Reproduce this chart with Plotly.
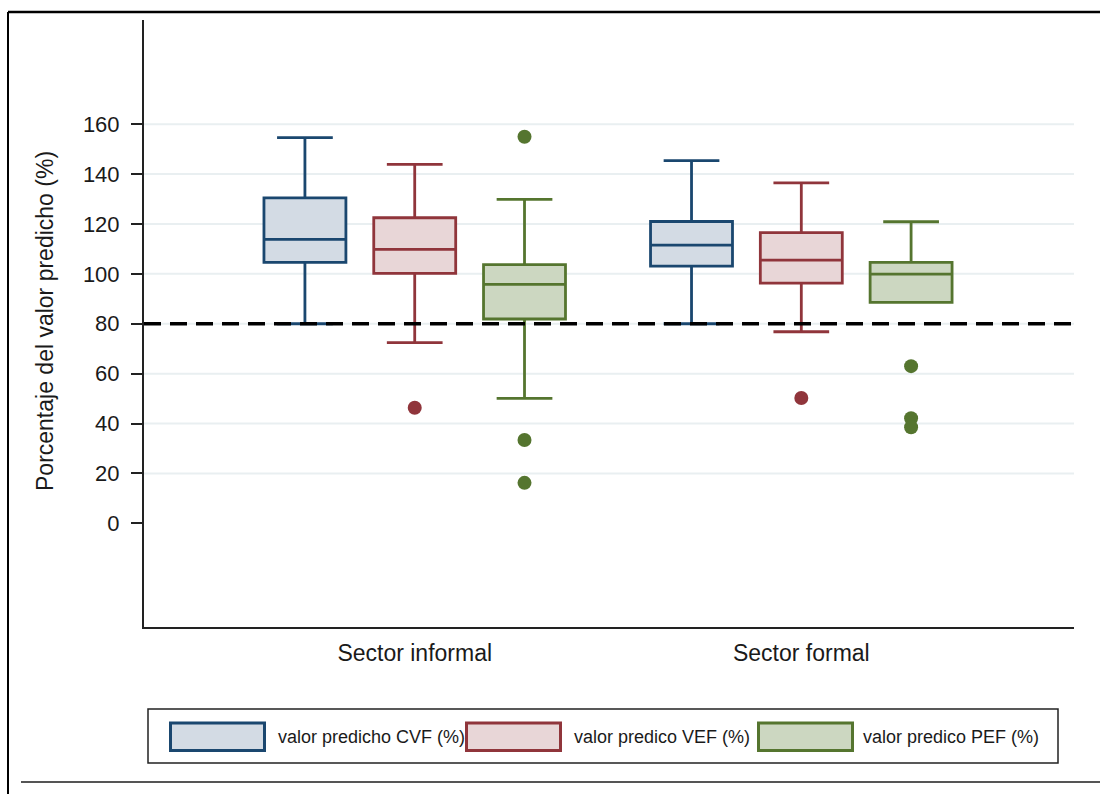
import plotly.graph_objects as go

# ---------------- data ----------------
groups = ["Sector informal", "Sector formal"]
series = ["valor predicho CVF (%)", "valor predico VEF (%)", "valor predico PEF (%)"]

cvf_q1 = [104.6, 103.1]
cvf_med = [113.8, 111.5]
cvf_q3 = [130.5, 121.0]
cvf_lo = [80.0, 80.0]
cvf_hi = [154.6, 145.4]
cvf_out = [[], []]

vef_q1 = [100.2, 96.3]
vef_med = [109.8, 105.5]
vef_q3 = [122.5, 116.5]
vef_lo = [72.4, 76.8]
vef_hi = [143.9, 136.5]
vef_out = [[46.3], [50.2]]

pef_q1 = [81.9, 88.6]
pef_med = [95.8, 99.9]
pef_q3 = [103.7, 104.6]
pef_lo = [50.1, 88.6]
pef_hi = [129.9, 120.9]
pef_out = [[155.0, 33.4, 16.2], [63.0, 42.1, 38.5]]

yticks = [0, 20, 40, 60, 80, 100, 120, 140, 160]
reference_line = 80

# ---------------- styles ----------------
line_colors = ["#1a476f", "#90353b", "#55752f"]
fill_colors = ["#d3dbe4", "#e8d6d7", "#ccd7c1"]
FONT = "Liberation Sans, Arial, sans-serif"
TXT = "#1a1a1a"

W, H = 1100, 794
ML, MR, MT, MB = 144, 26, 20, 167
PW = W - ML - MR
PH = H - MT - MB


def px(xpix):
    return (xpix - ML) / PW


def py(ypix):
    return (H - MB - ypix) / PH


offsets = [-0.284, 0.0, 0.284]
box_w = 0.212

stats = [
    (cvf_q1, cvf_med, cvf_q3, cvf_lo, cvf_hi, cvf_out),
    (vef_q1, vef_med, vef_q3, vef_lo, vef_hi, vef_out),
    (pef_q1, pef_med, pef_q3, pef_lo, pef_hi, pef_out),
]

fig = go.Figure()
for si, (q1, med, q3, lo, hi, outs) in enumerate(stats):
    xs = [gi + offsets[si] for gi in range(len(groups))]
    fig.add_trace(go.Box(
        x=xs, q1=q1, median=med, q3=q3, lowerfence=lo, upperfence=hi,
        width=box_w, whiskerwidth=0.68,
        line=dict(color=line_colors[si], width=2.8),
        fillcolor=fill_colors[si], boxpoints=False,
        name=series[si], showlegend=False,
    ))
    ox, oy = [], []
    for gi in range(len(groups)):
        for v in outs[gi]:
            ox.append(gi + offsets[si])
            oy.append(v)
    if ox:
        fig.add_trace(go.Scatter(
            x=ox, y=oy, mode="markers",
            marker=dict(color=line_colors[si], size=14, line=dict(width=0)),
            showlegend=False, hoverinfo="y",
        ))

shapes = []
# gridlines (none at the zero tick)
for t in yticks:
    if t == 0:
        continue
    shapes.append(dict(type="line", xref="paper", yref="y", x0=0, x1=px(1074), y0=t, y1=t,
                       line=dict(color="#e9eff1", width=2), layer="below"))
# reference dashed line
shapes.append(dict(type="line", xref="paper", yref="y", x0=0, x1=px(1074),
                   y0=reference_line, y1=reference_line,
                   line=dict(color="black", width=3.5, dash="17px,9px"), layer="above"))
# outer frame lines
shapes.append(dict(type="line", xref="paper", yref="paper", x0=px(8), x1=px(1100), y0=py(12), y1=py(12),
                   line=dict(color="black", width=2.5)))
shapes.append(dict(type="line", xref="paper", yref="paper", x0=px(8), x1=px(8), y0=py(12), y1=py(794),
                   line=dict(color="black", width=2)))
shapes.append(dict(type="line", xref="paper", yref="paper", x0=px(21), x1=px(1100), y0=py(782), y1=py(782),
                   line=dict(color="#555555", width=2)))
# legend box
shapes.append(dict(type="rect", xref="paper", yref="paper", x0=px(148), x1=px(1058), y0=py(763), y1=py(709),
                   line=dict(color="#222222", width=1.5), fillcolor="white"))

annotations = []
sw_x = [169, 465, 757]
tx_x = [276, 572, 861]
for si in range(3):
    shapes.append(dict(type="rect", xref="paper", yref="paper",
                       x0=px(sw_x[si] + 1.5), x1=px(sw_x[si] + 95.5), y0=py(750.5), y1=py(723),
                       line=dict(color=line_colors[si], width=3), fillcolor=fill_colors[si]))
    annotations.append(dict(xref="paper", yref="paper", x=px(tx_x[si]), y=py(737),
                            text=series[si], showarrow=False, xanchor="left", yanchor="middle",
                            font=dict(family=FONT, size=18, color=TXT)))

# y-axis title
annotations.append(dict(xref="paper", yref="paper", x=px(45), y=py(321),
                        text="Porcentaje del valor predicho (%)", textangle=-90, showarrow=False,
                        xanchor="center", yanchor="middle",
                        font=dict(family=FONT, size=23, color=TXT)))

fig.update_layout(
    width=W, height=H,
    margin=dict(l=ML, r=MR, t=MT, b=MB, autoexpand=False),
    paper_bgcolor="white", plot_bgcolor="white",
    shapes=shapes, annotations=annotations,
    showlegend=False,
    font=dict(family=FONT, color=TXT),
)
fig.update_xaxes(
    range=[-0.7003, 1.7054], tickvals=list(range(len(groups))), ticktext=groups,
    showgrid=False, zeroline=False, showline=True, linecolor="#222222", linewidth=2,
    ticks="", tickfont=dict(family=FONT, size=23, color=TXT), ticklabelstandoff=4,
)
fig.update_yaxes(
    range=[-41.6, 201.8], tickvals=yticks, showgrid=False, zeroline=False,
    showline=True, linecolor="#222222", linewidth=2,
    ticks="outside", ticklen=11, tickwidth=2, tickcolor="#222222",
    tickfont=dict(family=FONT, size=22, color=TXT), ticklabelstandoff=7,
)

fig.write_html(
    "out.html",
    config={"displayModeBar": False},
    post_script="document.body.style.margin='0';document.body.style.overflow='hidden';",
)
